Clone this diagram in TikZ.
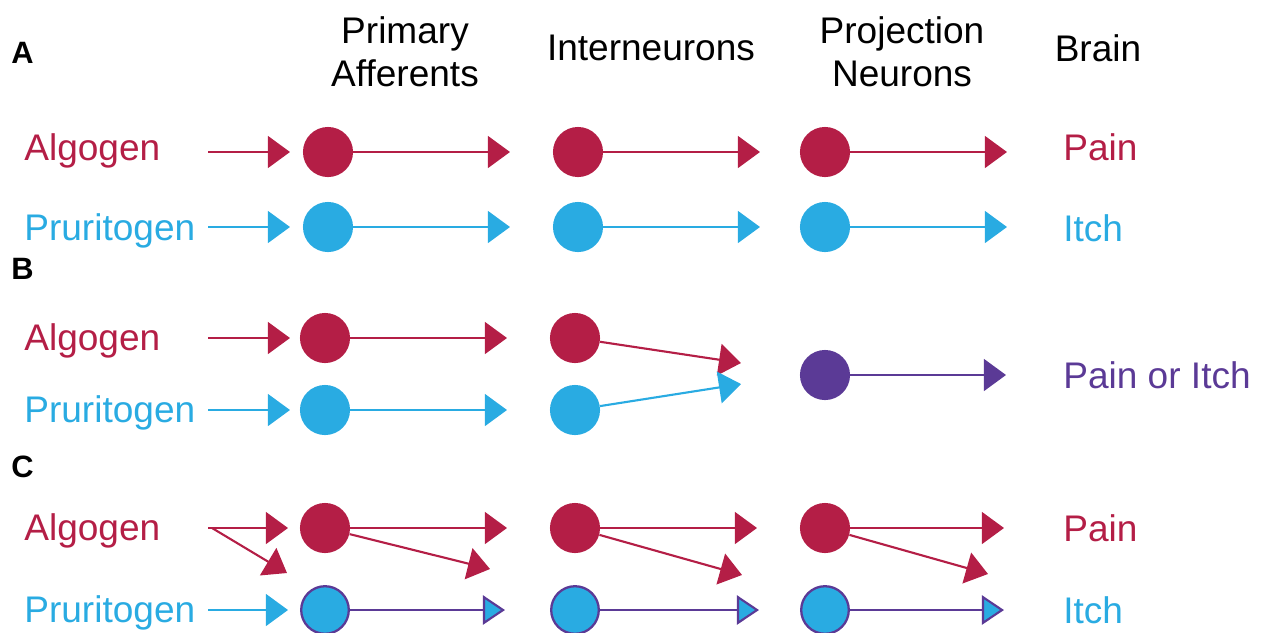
\documentclass[tikz,border=0pt]{standalone}
\usepackage{fontspec}
\setmainfont{Liberation Sans}
\usetikzlibrary{arrows.meta}
\definecolor{cr}{HTML}{B41E46}
\definecolor{cb}{HTML}{29ABE2}
\definecolor{pu}{HTML}{5B3A96}
\begin{document}
\begin{tikzpicture}[x=0.567pt,y=-0.567pt,
  lbl/.style={anchor=west,inner sep=0pt,font=\fontsize{21}{25}\selectfont},
  hdr/.style={align=center,inner sep=0pt,font=\fontsize{21}{24.5}\selectfont},
  panel/.style={anchor=west,inner sep=0pt,font=\fontsize{17.5}{20}\bfseries\selectfont},
  rn/.style={circle,fill=cr,inner sep=0pt,minimum size=28.4pt},
  bn/.style={circle,fill=cb,inner sep=0pt,minimum size=28.4pt},
  pn/.style={circle,fill=pu,inner sep=0pt,minimum size=28.4pt},
  mn/.style={circle,fill=cb,draw=pu,line width=1.3pt,inner sep=0pt,minimum size=27pt},
  ra/.style={draw=cr,line width=1.2pt,-{Triangle[length=12.5pt,width=18pt]}},
  ba/.style={draw=cb,line width=1.2pt,-{Triangle[length=12.5pt,width=18pt]}},
  pa/.style={draw=pu,line width=1.2pt,-{Triangle[length=12.5pt,width=18pt]}},
  ma/.style={draw=pu,line width=1.2pt,-{Triangle[length=12.5pt,width=16.5pt,fill=cb]}},
]
\useasboundingbox (0,0) rectangle (1261,632);
% headers
\node[hdr] (h1) at (405,52) {Primary\\Afferents};
\node[hdr] (h2) at (651,48) {Interneurons};
\node[hdr] (h3) at (902,52) {Projection\\Neurons};
\node[hdr] (h4) at (1098,48) {Brain};
% panel labels
\node[panel] (pA) at (11,53) {A};
\node[panel] (pB) at (11,269) {B};
\node[panel] (pC) at (11,467) {C};

% ---------- A ----------
\node[lbl,text=cr] (aA) at (24,151) {Algogen};
\node[lbl,text=cb] (aP) at (24,231) {Pruritogen};
\node[lbl,text=cr] (aPain) at (1063,147) {Pain};
\node[lbl,text=cb] (aItch) at (1063,228) {Itch};
\coordinate (a1s) at (208,152); \coordinate (a1t) at (290,152);
\node[rn] (a11) at (328,152) {};
\coordinate (a12t) at (510,152);
\node[rn] (a12) at (578,152) {};
\coordinate (a13t) at (760,152);
\node[rn] (a13) at (825,152) {};
\coordinate (a14t) at (1007,152);
\draw[ra] (a1s) -- (a1t);
\draw[ra] (a11.east) -- (a12t);
\draw[ra] (a12.east) -- (a13t);
\draw[ra] (a13.east) -- (a14t);
\coordinate (a2s) at (208,227); \coordinate (a2t) at (290,227);
\node[bn] (a21) at (328,227) {};
\coordinate (a22t) at (510,227);
\node[bn] (a22) at (578,227) {};
\coordinate (a23t) at (760,227);
\node[bn] (a23) at (825,227) {};
\coordinate (a24t) at (1007,227);
\draw[ba] (a2s) -- (a2t);
\draw[ba] (a21.east) -- (a22t);
\draw[ba] (a22.east) -- (a23t);
\draw[ba] (a23.east) -- (a24t);

% ---------- B ----------
\node[lbl,text=cr] (bA) at (24,341) {Algogen};
\node[lbl,text=cb] (bP) at (24,413) {Pruritogen};
\node[lbl,text=pu] (bPI) at (1063,375) {Pain or Itch};
\coordinate (b1s) at (208,338); \coordinate (b1t) at (290,338);
\node[rn] (b11) at (325,338) {};
\coordinate (b12t) at (507,338);
\node[rn] (b12) at (575,338) {};
\coordinate (b13t) at (741,363);
\draw[ra] (b1s) -- (b1t);
\draw[ra] (b11.east) -- (b12t);
\draw[ra] (b12) -- (b13t);
\coordinate (b2s) at (208,410); \coordinate (b2t) at (290,410);
\node[bn] (b21) at (325,410) {};
\coordinate (b22t) at (507,410);
\node[bn] (b22) at (575,410) {};
\coordinate (b23t) at (741,384);
\draw[ba] (b2s) -- (b2t);
\draw[ba] (b21.east) -- (b22t);
\draw[ba] (b22) -- (b23t);
\node[pn] (bp) at (825,375) {};
\coordinate (bpt) at (1006,375);
\draw[pa] (bp.east) -- (bpt);

% ---------- C ----------
\node[lbl,text=cr] (cA) at (24,531) {Algogen};
\node[lbl,text=cb] (cP) at (24,613) {Pruritogen};
\node[lbl,text=cr] (cPain) at (1063,528) {Pain};
\node[lbl,text=cb] (cItch) at (1063,610) {Itch};
\coordinate (c1s) at (208,528); \coordinate (c1t) at (288,528);
\coordinate (c1d0) at (212,528); \coordinate (c1d) at (287,573);
\node[rn] (c11) at (325,528) {};
\coordinate (c12t) at (507,528); \coordinate (c12d) at (490,569);
\node[rn] (c12) at (575,528) {};
\coordinate (c13t) at (757,528); \coordinate (c13d) at (742,575);
\node[rn] (c13) at (825,528) {};
\coordinate (c14t) at (1004,528); \coordinate (c14d) at (988,574);
\draw[ra] (c1s) -- (c1t);
\draw[ra] (c1d0) -- (c1d);
\draw[ra] (c11.east) -- (c12t);
\draw[ra] (c11) -- (c12d);
\draw[ra] (c12.east) -- (c13t);
\draw[ra] (c12) -- (c13d);
\draw[ra] (c13.east) -- (c14t);
\draw[ra] (c13) -- (c14d);
\coordinate (c2s) at (208,610); \coordinate (c2t) at (288,610);
\node[mn] (c21) at (325,610) {};
\coordinate (c22t) at (505,610);
\node[mn] (c22) at (575,610) {};
\coordinate (c23t) at (759,610);
\node[mn] (c23) at (825,610) {};
\coordinate (c24t) at (1004,610);
\draw[ba] (c2s) -- (c2t);
\draw[ma] (c21.east) -- (c22t);
\draw[ma] (c22.east) -- (c23t);
\draw[ma] (c23.east) -- (c24t);
\end{tikzpicture}
\end{document}
